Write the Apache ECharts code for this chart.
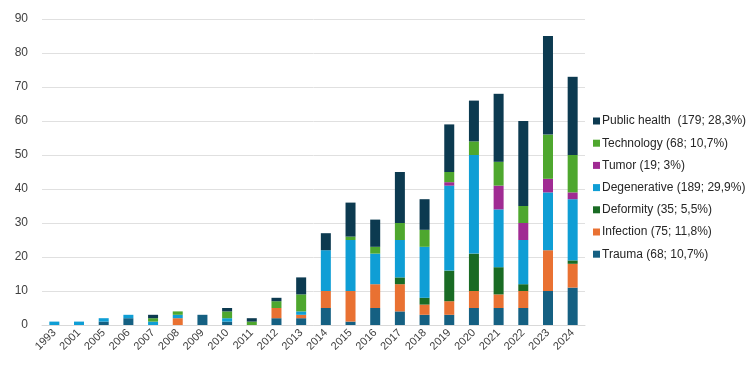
<!DOCTYPE html>
<html>
<head>
<meta charset="utf-8">
<script src="https://cdn.jsdelivr.net/npm/echarts@6/dist/echarts.min.js"></script>
<style>
  html, body { margin: 0; padding: 0; background: #fff; }
  #chart { width: 750px; height: 368px; }
</style>
</head>
<body>
<div id="chart"></div>
<script>
const years = ["1993", "2001", "2005", "2006", "2007", "2008", "2009", "2010", "2011", "2012", "2013",
  "2014", "2015", "2016", "2017", "2018", "2019", "2020", "2021", "2022", "2023", "2024"];

const trauma       = [0, 0, 1, 2, 0, 0, 3, 1, 0, 2, 2, 5, 1, 5, 4, 3, 3, 5, 5, 5, 10, 11];
const infection    = [0, 0, 0, 0, 0, 2, 0, 0, 0, 3, 1, 5, 9, 7, 8, 3, 4, 5, 4, 5, 12, 7];
const deformity    = [0, 0, 0, 0, 0, 0, 0, 0, 0, 0, 0, 0, 0, 0, 2, 2, 9, 11, 8, 2, 0, 1];
const degenerative = [1, 1, 1, 1, 1, 1, 0, 1, 0, 0, 1, 12, 15, 9, 11, 15, 25, 29, 17, 13, 17, 18];
const tumor        = [0, 0, 0, 0, 0, 0, 0, 0, 0, 0, 0, 0, 0, 0, 0, 0, 1, 0, 7, 5, 4, 2];
const technology   = [0, 0, 0, 0, 1, 1, 0, 2, 1, 2, 5, 0, 1, 2, 5, 5, 3, 4, 7, 5, 13, 11];
const publicHealth = [0, 0, 0, 0, 1, 0, 0, 1, 1, 1, 5, 5, 10, 8, 15, 9, 14, 12, 20, 25, 29, 23];

const seriesNames = [
  "Trauma (68; 10,7%)",
  "Infection (75; 11,8%)",
  "Deformity (35; 5,5%)",
  "Degenerative (189; 29,9%)",
  "Tumor (19; 3%)",
  "Technology (68; 10,7%)",
  "Public health  (179; 28,3%)"
];
const seriesData = [trauma, infection, deformity, degenerative, tumor, technology, publicHealth];
const colors = ["#156082", "#e97132", "#196b24", "#0f9ed5", "#a02b93", "#4ea72e", "#0c3a50"];

const chart = echarts.init(document.getElementById("chart"));

const option = {
  animation: false,
  color: colors,
  grid: {
    left: 42,
    right: 165,
    top: 19,
    bottom: 43
  },
  legend: {
    orient: "vertical",
    left: 588,
    top: 110,
    itemWidth: 7,
    itemHeight: 7,
    itemGap: 10.2,
    icon: "rect",
    data: seriesNames.slice().reverse(),
    textStyle: {
      fontFamily: "Liberation Sans, Arial, sans-serif",
      fontSize: 12,
      color: "#262626",
      padding: [0, 0, 0, -3]
    }
  },
  xAxis: {
    type: "category",
    data: years,
    axisTick: { show: false },
    axisLine: { lineStyle: { color: "#d9d9d9" } },
    axisLabel: {
      rotate: 45,
      interval: 0,
      margin: 6,
      fontFamily: "Liberation Sans, Arial, sans-serif",
      fontSize: 11,
      color: "#404040"
    }
  },
  yAxis: {
    type: "value",
    min: 0,
    max: 90,
    interval: 10,
    axisLine: { show: false },
    axisTick: { show: false },
    splitLine: { lineStyle: { color: "#e0e0e0" } },
    axisLabel: {
      margin: 14,
      fontFamily: "Liberation Sans, Arial, sans-serif",
      fontSize: 12,
      color: "#404040"
    }
  },
  series: seriesNames.map((name, i) => ({
    name: name,
    type: "bar",
    stack: "total",
    barWidth: 10,
    data: seriesData[i]
  }))
};

chart.setOption(option);
</script>
</body>
</html>
